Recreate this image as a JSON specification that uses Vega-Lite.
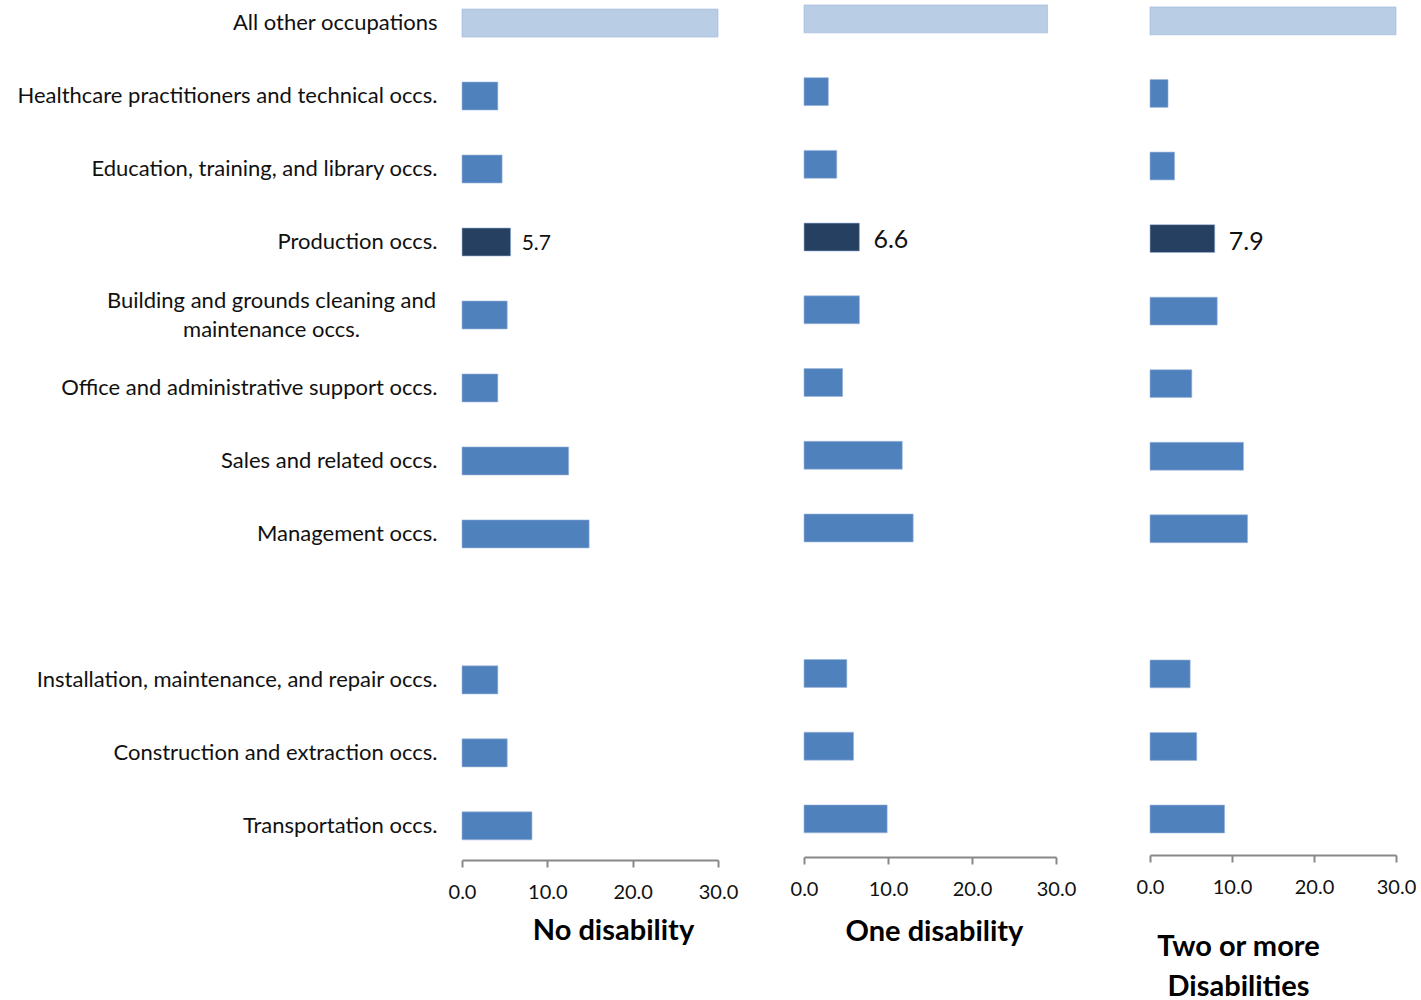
{
  "$schema": "https://vega.github.io/schema/vega-lite/v6.json",
  "padding": 0,
  "background": "white",
  "datasets": {
    "none": [
      {"occupation": "All other occupations", "value": 30.0},
      {"occupation": "Healthcare practitioners and technical occs.", "value": 4.2},
      {"occupation": "Education, training, and library occs.", "value": 4.7},
      {"occupation": "Production occs.", "value": 5.7},
      {"occupation": "Building and grounds cleaning and maintenance occs.", "value": 5.3},
      {"occupation": "Office and administrative support occs.", "value": 4.2},
      {"occupation": "Sales and related occs.", "value": 12.5},
      {"occupation": "Management occs.", "value": 14.9},
      {"occupation": "Installation, maintenance, and repair occs.", "value": 4.2},
      {"occupation": "Construction and extraction occs.", "value": 5.3},
      {"occupation": "Transportation occs.", "value": 8.2}
    ],
    "one": [
      {"occupation": "All other occupations", "value": 29.0},
      {"occupation": "Healthcare practitioners and technical occs.", "value": 2.9},
      {"occupation": "Education, training, and library occs.", "value": 3.9},
      {"occupation": "Production occs.", "value": 6.6},
      {"occupation": "Building and grounds cleaning and maintenance occs.", "value": 6.6},
      {"occupation": "Office and administrative support occs.", "value": 4.6},
      {"occupation": "Sales and related occs.", "value": 11.7},
      {"occupation": "Management occs.", "value": 13.0},
      {"occupation": "Installation, maintenance, and repair occs.", "value": 5.1},
      {"occupation": "Construction and extraction occs.", "value": 5.9},
      {"occupation": "Transportation occs.", "value": 9.9}
    ],
    "two": [
      {"occupation": "All other occupations", "value": 30.0},
      {"occupation": "Healthcare practitioners and technical occs.", "value": 2.2},
      {"occupation": "Education, training, and library occs.", "value": 3.0},
      {"occupation": "Production occs.", "value": 7.9},
      {"occupation": "Building and grounds cleaning and maintenance occs.", "value": 8.2},
      {"occupation": "Office and administrative support occs.", "value": 5.1},
      {"occupation": "Sales and related occs.", "value": 11.4},
      {"occupation": "Management occs.", "value": 11.9},
      {"occupation": "Installation, maintenance, and repair occs.", "value": 4.9},
      {"occupation": "Construction and extraction occs.", "value": 5.7},
      {"occupation": "Transportation occs.", "value": 9.1}
    ]
  },
  "spacing": 0,
  "resolve": {"scale": {"x": "independent", "y": "independent"}, "axis": {"x": "independent", "y": "independent"}},
  "config": {
    "view": {"stroke": null},
    "font": "Lato",
    "axis": {"grid": false, "labelFont": "Lato", "titleFont": "Lato", "labelColor": "#111111", "titleColor": "#000000"}
  },
  "hconcat": [
    {
      "width": 256,
      "height": 860,
      "data": {"name": "none"},
      "encoding": {
        "y": {
          "field": "occupation", "type": "nominal",
          "scale": {
            "domain": ["All other occupations", "Healthcare practitioners and technical occs.", "Education, training, and library occs.", "Production occs.", "Building and grounds cleaning and maintenance occs.", "Office and administrative support occs.", "Sales and related occs.", "Management occs.", "gap", "Installation, maintenance, and repair occs.", "Construction and extraction occs.", "Transportation occs."],
            "paddingInner": 0.616, "paddingOuter": 0.2, "align": 0.31
          },
          "axis": {
            "title": null, "domain": false, "ticks": false, "labelFontSize": 22, "labelLimit": 0,
            "labelLineHeight": 29, "minExtent": 462, "maxExtent": 462,
            "labelAlign": {"condition": {"test": "datum.value == 'Building and grounds cleaning and maintenance occs.'", "value": "center"}, "value": "right"},
            "labelPadding": {"condition": {"test": "datum.value == 'Building and grounds cleaning and maintenance occs.'", "value": 191}, "value": 25},
            "labelOffset": {"condition": {"test": "datum.value == 'Building and grounds cleaning and maintenance occs.'", "value": -14}, "value": 0},
            "labelExpr": "datum.value == 'gap' ? '' : datum.value == 'Building and grounds cleaning and maintenance occs.' ? ['Building and grounds cleaning and', 'maintenance occs.'] : datum.value"
          }
        },
        "x": {
          "field": "value", "type": "quantitative",
          "scale": {"domain": [0, 30], "nice": false},
          "axis": {
            "values": [0, 10, 20, 30], "format": ".1f", "labelFontSize": 20, "labelPadding": 15, "labelFlush": false,
            "domainColor": "#888888", "domainWidth": 2, "tickColor": "#888888", "tickWidth": 2, "tickSize": 7,
            "title": "No disability", "titleFontSize": 29, "titleFontWeight": "bold",
            "titleX": 151, "titleY": 79, "titleBaseline": "alphabetic", "titleAlign": "center"
          }
        }
      },
      "layer": [
        {
          "mark": {"type": "bar", "stroke": "#9db7dc", "strokeWidth": 0.6},
          "encoding": {
            "color": {
              "condition": [
                {"test": "datum.occupation == 'All other occupations'", "value": "#b9cde5"},
                {"test": "datum.occupation == 'Production occs.'", "value": "#254061"}
              ],
              "value": "#4f81bd"
            }
          }
        },
        {
          "transform": [{"filter": "datum.occupation == 'Production occs.'"}],
          "mark": {"type": "text", "align": "left", "baseline": "middle", "dx": 11, "dy": 2, "fontSize": 21, "font": "Lato", "color": "#111111"},
          "encoding": {"text": {"field": "value", "format": ".1f"}}
        }
      ]
    },
    {
      "width": 252,
      "height": 857,
      "data": {"name": "one"},
      "encoding": {
        "y": {
          "field": "occupation", "type": "nominal",
          "scale": {
            "domain": ["All other occupations", "Healthcare practitioners and technical occs.", "Education, training, and library occs.", "Production occs.", "Building and grounds cleaning and maintenance occs.", "Office and administrative support occs.", "Sales and related occs.", "Management occs.", "gap", "Installation, maintenance, and repair occs.", "Construction and extraction occs.", "Transportation occs."],
            "paddingInner": 0.616, "paddingOuter": 0.2, "align": 0.17
          },
          "axis": {"title": null, "domain": false, "ticks": false, "labels": false, "minExtent": 66, "maxExtent": 66}
        },
        "x": {
          "field": "value", "type": "quantitative",
          "scale": {"domain": [0, 30], "nice": false},
          "axis": {
            "values": [0, 10, 20, 30], "format": ".1f", "labelFontSize": 20, "labelPadding": 15, "labelFlush": false,
            "domainColor": "#888888", "domainWidth": 2, "tickColor": "#888888", "tickWidth": 2, "tickSize": 7,
            "title": "One disability", "titleFontSize": 29, "titleFontWeight": "bold",
            "titleX": 130, "titleY": 83, "titleBaseline": "alphabetic", "titleAlign": "center"
          }
        }
      },
      "layer": [
        {
          "mark": {"type": "bar", "stroke": "#9db7dc", "strokeWidth": 0.6},
          "encoding": {
            "color": {
              "condition": [
                {"test": "datum.occupation == 'All other occupations'", "value": "#b9cde5"},
                {"test": "datum.occupation == 'Production occs.'", "value": "#254061"}
              ],
              "value": "#4f81bd"
            }
          }
        },
        {
          "transform": [{"filter": "datum.occupation == 'Production occs.'"}],
          "mark": {"type": "text", "align": "left", "baseline": "middle", "dx": 14, "dy": 3, "fontSize": 25, "font": "Lato", "color": "#111111"},
          "encoding": {"text": {"field": "value", "format": ".1f"}}
        }
      ]
    },
    {
      "width": 246,
      "height": 855,
      "data": {"name": "two"},
      "encoding": {
        "y": {
          "field": "occupation", "type": "nominal",
          "scale": {
            "domain": ["All other occupations", "Healthcare practitioners and technical occs.", "Education, training, and library occs.", "Production occs.", "Building and grounds cleaning and maintenance occs.", "Office and administrative support occs.", "Sales and related occs.", "Management occs.", "gap", "Installation, maintenance, and repair occs.", "Construction and extraction occs.", "Transportation occs."],
            "paddingInner": 0.616, "paddingOuter": 0.2, "align": 0.24
          },
          "axis": {"title": null, "domain": false, "ticks": false, "labels": false, "minExtent": 74, "maxExtent": 74}
        },
        "x": {
          "field": "value", "type": "quantitative",
          "scale": {"domain": [0, 30], "nice": false},
          "axis": {
            "values": [0, 10, 20, 30], "format": ".1f", "labelFontSize": 20, "labelPadding": 15, "labelFlush": false,
            "domainColor": "#888888", "domainWidth": 2, "tickColor": "#888888", "tickWidth": 2, "tickSize": 7,
            "title": ["Two or more", "Disabilities"], "titleFontSize": 29, "titleFontWeight": "bold", "titleLineHeight": 40,
            "titleX": 88, "titleY": 100, "titleBaseline": "alphabetic", "titleAlign": "center"
          }
        }
      },
      "layer": [
        {
          "mark": {"type": "bar", "stroke": "#9db7dc", "strokeWidth": 0.6},
          "encoding": {
            "color": {
              "condition": [
                {"test": "datum.occupation == 'All other occupations'", "value": "#b9cde5"},
                {"test": "datum.occupation == 'Production occs.'", "value": "#254061"}
              ],
              "value": "#4f81bd"
            }
          }
        },
        {
          "transform": [{"filter": "datum.occupation == 'Production occs.'"}],
          "mark": {"type": "text", "align": "left", "baseline": "middle", "dx": 14, "dy": 3, "fontSize": 25, "font": "Lato", "color": "#111111"},
          "encoding": {"text": {"field": "value", "format": ".1f"}}
        }
      ]
    }
  ]
}
